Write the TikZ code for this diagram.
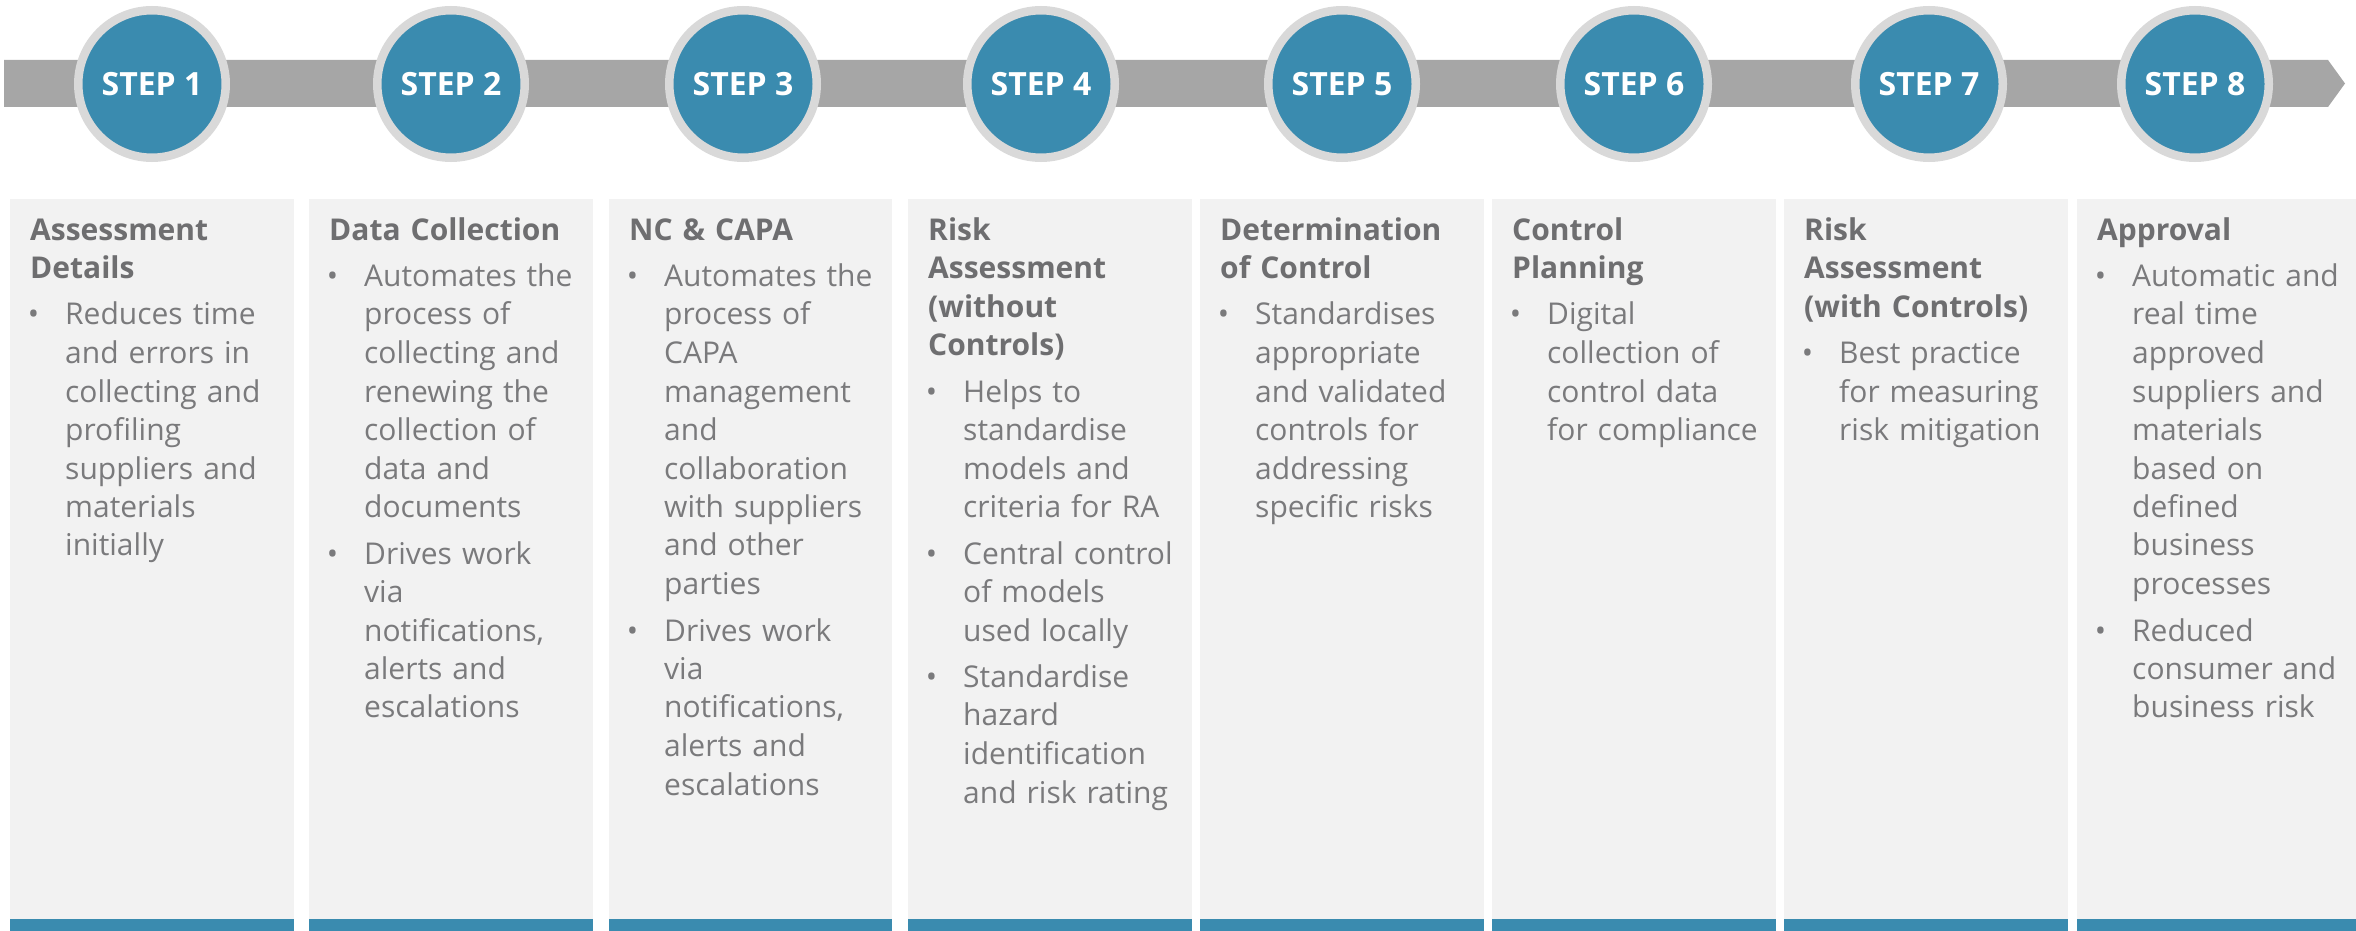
\documentclass[tikz,border=0pt]{standalone}
\usepackage{fontspec}
\setmainfont{Open Sans}
\definecolor{stepblue}{HTML}{3A8BAF}
\definecolor{ringgray}{HTML}{D9D9D9}
\definecolor{bandgray}{HTML}{A6A6A6}
\definecolor{boxgray}{HTML}{F2F2F2}
\definecolor{headgray}{HTML}{6E6E70}
\definecolor{bodygray}{HTML}{7A7A7C}

% heading of a column and one bullet point (lines broken by hand with \newline)
\newcommand{\colhead}[1]{{\bfseries\color{headgray}#1\par}}
\newcommand{\bitem}[1]{\par\hangindent=35pt\hangafter=0\noindent\llap{\textbullet\hspace{26pt}}#1\par}

\tikzset{
  panel/.style={fill=boxgray, draw=none},
  panelbar/.style={fill=stepblue, draw=none},
  stepdisc/.style={circle, fill=stepblue, draw=ringgray, line width=8.5pt,
    minimum size=147.5pt, inner sep=0pt, text=white,
    font=\fontsize{32}{38}\selectfont\bfseries},
  coltext/.style={anchor=base west, inner sep=0pt, text width=300pt,
    text=bodygray, font=\fontsize{30}{38.5}\selectfont,
    execute at begin node={\setlength{\parskip}{8pt}\setlength{\parindent}{0pt}\let\\\newline}}
}

\begin{document}
\begin{tikzpicture}[x=1pt, y=-1pt]
\useasboundingbox (0,0) rectangle (2356,931);

% timeline band with arrow head
\fill[bandgray] (4,60) -- (2328,60) -- (2345,83.5) -- (2328,107) -- (4,107) -- cycle;
\coordinate (bandend) at (2345,83.5);

% step discs
\foreach \i/\x in {1/152, 2/451, 3/743, 4/1041, 5/1342, 6/1634, 7/1929, 8/2195}
  \node[stepdisc] (step\i) at (\x,84) {STEP \i};

% column panels with their blue foot bars
\foreach \i/\l/\r in {1/10/294, 2/309/593, 3/609/892, 4/908/1192, 5/1200/1484, 6/1492/1776, 7/1784/2068, 8/2077/2356} {
  \fill[panel] (\l,199) rectangle (\r,919);
  \coordinate (box\i) at (\l,199);
  \fill[panelbar] (\l,919) rectangle (\r,931);
}

\node[coltext] (txt1) at (30,240) {%
  \colhead{Assessment\\Details}
  \bitem{Reduces time\\and errors in\\collecting and\\profiling\\suppliers and\\materials\\initially}};

\node[coltext] (txt2) at (329,240) {%
  \colhead{Data Collection}
  \bitem{Automates the\\process of\\collecting and\\renewing the\\collection of\\data and\\documents}
  \bitem{Drives work\\via\\notifications,\\alerts and\\escalations}};

\node[coltext] (txt3) at (629,240) {%
  \colhead{NC \& CAPA}
  \bitem{Automates the\\process of\\CAPA\\management\\and\\collaboration\\with suppliers\\and other\\parties}
  \bitem{Drives work\\via\\notifications,\\alerts and\\escalations}};

\node[coltext] (txt4) at (928,240) {%
  \colhead{Risk\\Assessment\\(without\\Controls)}
  \bitem{Helps to\\standardise\\models and\\criteria for RA}
  \bitem{Central control\\of models\\used locally}
  \bitem{Standardise\\hazard\\identification\\and risk rating}};

\node[coltext] (txt5) at (1220,240) {%
  \colhead{Determination\\of Control}
  \bitem{Standardises\\appropriate\\and validated\\controls for\\addressing\\specific risks}};

\node[coltext] (txt6) at (1512,240) {%
  \colhead{Control\\Planning}
  \bitem{Digital\\collection of\\control data\\for compliance}};

\node[coltext] (txt7) at (1804,240) {%
  \colhead{Risk\\Assessment\\(with Controls)}
  \bitem{Best practice\\for measuring\\risk mitigation}};

\node[coltext] (txt8) at (2097,240) {%
  \colhead{Approval}
  \bitem{Automatic and\\real time\\approved\\suppliers and\\materials\\based on\\defined\\business\\processes}
  \bitem{Reduced\\consumer and\\business risk}};

\end{tikzpicture}
\end{document}
